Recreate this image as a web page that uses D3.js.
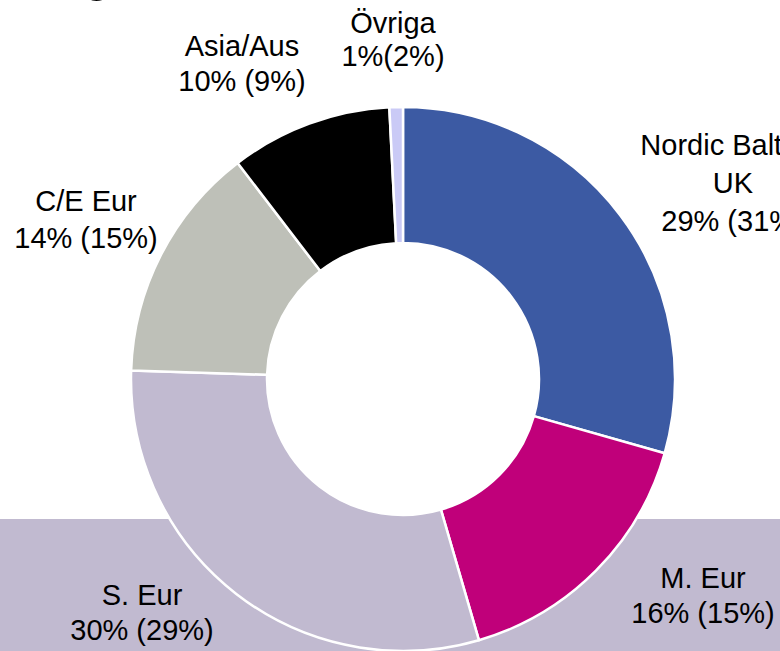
<!DOCTYPE html>
<html>
	<head>
		<title>Donut</title>
		<script src="https://d3js.org/d3.v7.min.js"></script>
		<style>
			body { margin: 0; background: #fff; }
			svg { display: block; }
			.lbl { font-family: "Liberation Sans", Arial, sans-serif; font-size: 29px; fill: #000; }
		</style>
	</head>
	<body>
		<div class="donut" data-width="780" data-height="651"></div>
		<script>
			// regions, share this year and labels
			var regions = ["Nordic Baltics/", "M. Eur", "S. Eur", "C/E Eur", "Asia/Aus", "Övriga"];
			var subLines = ["UK", null, null, null, null, null];
			var share = [29.4, 16.1, 30.0, 14.1, 9.6, 0.8];
			var shareText = ["29% (31%)", "16% (15%)", "30% (29%)", "14% (15%)", "10% (9%)", "1%(2%)"];

			var colors = ["#3c5aa3", "#c0007a", "#c1bad0", "#bec0b8", "#000000", "#cacaf6"];
			// label anchor offsets from centre (layout only)
			var labelPos = [[330, -224], [300, 209], [-261, 226], [-317, -168], [-161, -323], [-10, -346]];
			var lineGap = [38, 35, 35, 37, 35, 33];

			var $el = document.querySelector('.donut');
			var width = +$el.dataset.width, height = +$el.dataset.height;

			var svg = d3.select($el).append("svg")
				.attr("width", width)
				.attr("height", height);

			// band behind the bottom of the chart
			svg.append("rect")
				.attr("x", 0).attr("y", 519)
				.attr("width", width).attr("height", height - 519)
				.attr("fill", "#c1bad0");

			// leftover of the slide title
			svg.append("text")
				.attr("x", 97).attr("y", -10)
				.attr("text-anchor", "middle")
				.style("font-family", "Liberation Sans, Arial, sans-serif")
				.style("font-size", "52px")
				.text("g");

			var cx = 403, cy = 379;
			var g = svg.append("g").attr("transform", "translate(" + cx + "," + cy + ")");

			var pie = d3.pie().sort(null).value(function(d) { return d; });
			var arc = d3.arc().innerRadius(136).outerRadius(272);

			g.selectAll("path")
				.data(pie(share))
				.enter()
				.append("path")
				.attr("d", arc)
				.attr("fill", function(d, i) { return colors[i]; })
				.attr("stroke", "#fff")
				.attr("stroke-width", 2.5)
				.attr("stroke-linejoin", "round");

			regions.forEach(function(name, i) {
				var lines = [name];
				if (subLines[i]) lines.push(subLines[i]);
				lines.push(shareText[i]);
				var t = g.append("text")
					.attr("class", "lbl")
					.attr("text-anchor", "middle");
				lines.forEach(function(s, k) {
					t.append("tspan")
						.attr("x", labelPos[i][0])
						.attr("y", labelPos[i][1] + k * lineGap[i])
						.text(s);
				});
			});
		</script>
	</body>
</html>
